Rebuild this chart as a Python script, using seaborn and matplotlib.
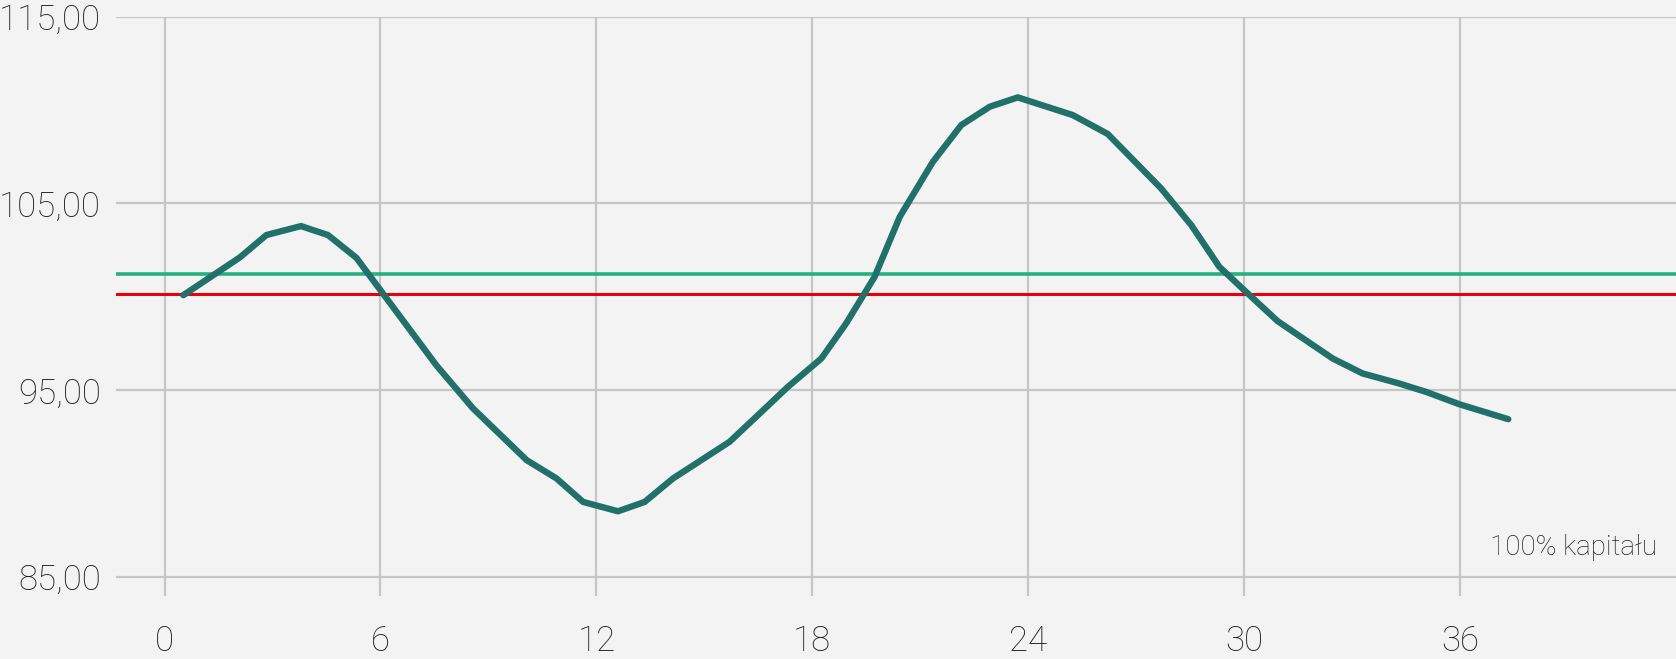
import matplotlib
matplotlib.use("Agg")

import matplotlib.pyplot as plt
import seaborn as sns
import pandas as pd

# Values
months = [0.52, 2.09, 2.83, 3.79, 4.54, 5.33, 7.55, 8.57, 10.06, 10.89, 11.63,
          12.6, 13.34, 14.13, 15.70, 16.54, 17.32, 18.25, 18.94, 19.73, 20.43,
          21.35, 22.14, 22.93, 23.71, 25.24, 26.21, 27.69, 28.53, 29.31, 30.0,
          30.93, 32.46, 33.29, 34.31, 35.06, 35.98, 37.34]
value = [100.09, 102.11, 103.31, 103.79, 103.31, 102.09, 96.34, 94.03, 91.26,
         90.28, 89.02, 88.52, 89.02, 90.28, 92.24, 93.76, 95.18, 96.7, 98.58,
         101.07, 104.29, 107.23, 109.2, 110.18, 110.68, 109.73, 108.72, 105.81,
         103.84, 101.61, 100.36, 98.7, 96.7, 95.9, 95.36, 94.91, 94.25, 93.45]
capital_level = 100.15
upper_level = 101.25
x_ticks = [0, 6, 12, 18, 24, 30, 36]
y_ticks = [85, 95, 105, 115]
label_text = "100% kapitału"

df = pd.DataFrame({"month": months, "value": value})

bg = "#f3f3f3"
sns.set_theme(style="whitegrid")
plt.rcParams["font.family"] = ["Roboto", "DejaVu Sans"]

fig = plt.figure(figsize=(16.76, 6.59), dpi=100, facecolor=bg)
ax = fig.add_axes([116 / 1676, 1 - 595.7 / 659, 1 - 116 / 1676, (595.7 - 16.7) / 659])
ax.set_facecolor(bg)

ax.axhline(upper_level, color="#25b07f", lw=2.6, zorder=2)
ax.axhline(capital_level, color="#e8000b", lw=2.2, zorder=2)

sns.lineplot(data=df, x="month", y="value", ax=ax, color="#21716a",
             linewidth=4.6, zorder=3, solid_capstyle="round")

ax.set_xlim(-1.35, 42)
ax.set_ylim(84, 115)
ax.set_xticks(x_ticks)
ax.set_yticks(y_ticks)
ax.set_yticklabels([f"{v:.2f}".replace(".", ",") for v in y_ticks])
ax.tick_params(axis="both", length=0, labelcolor="#222222")
for lab in ax.get_xticklabels() + ax.get_yticklabels():
    lab.set_fontsize(25)
    lab.set_fontweight("light")
ax.tick_params(axis="y", pad=11)
ax.tick_params(axis="x", pad=21)
ax.set_xlabel("")
ax.set_ylabel("")
ax.grid(True, color="#c6c6c6", linewidth=1.6)
for s in ax.spines.values():
    s.set_visible(False)

ax.text(41.48, 86.2, label_text, ha="right", va="baseline",
        fontsize=20, color="#222222", fontweight="light")

fig.savefig("out.png", dpi=100, facecolor=bg)
